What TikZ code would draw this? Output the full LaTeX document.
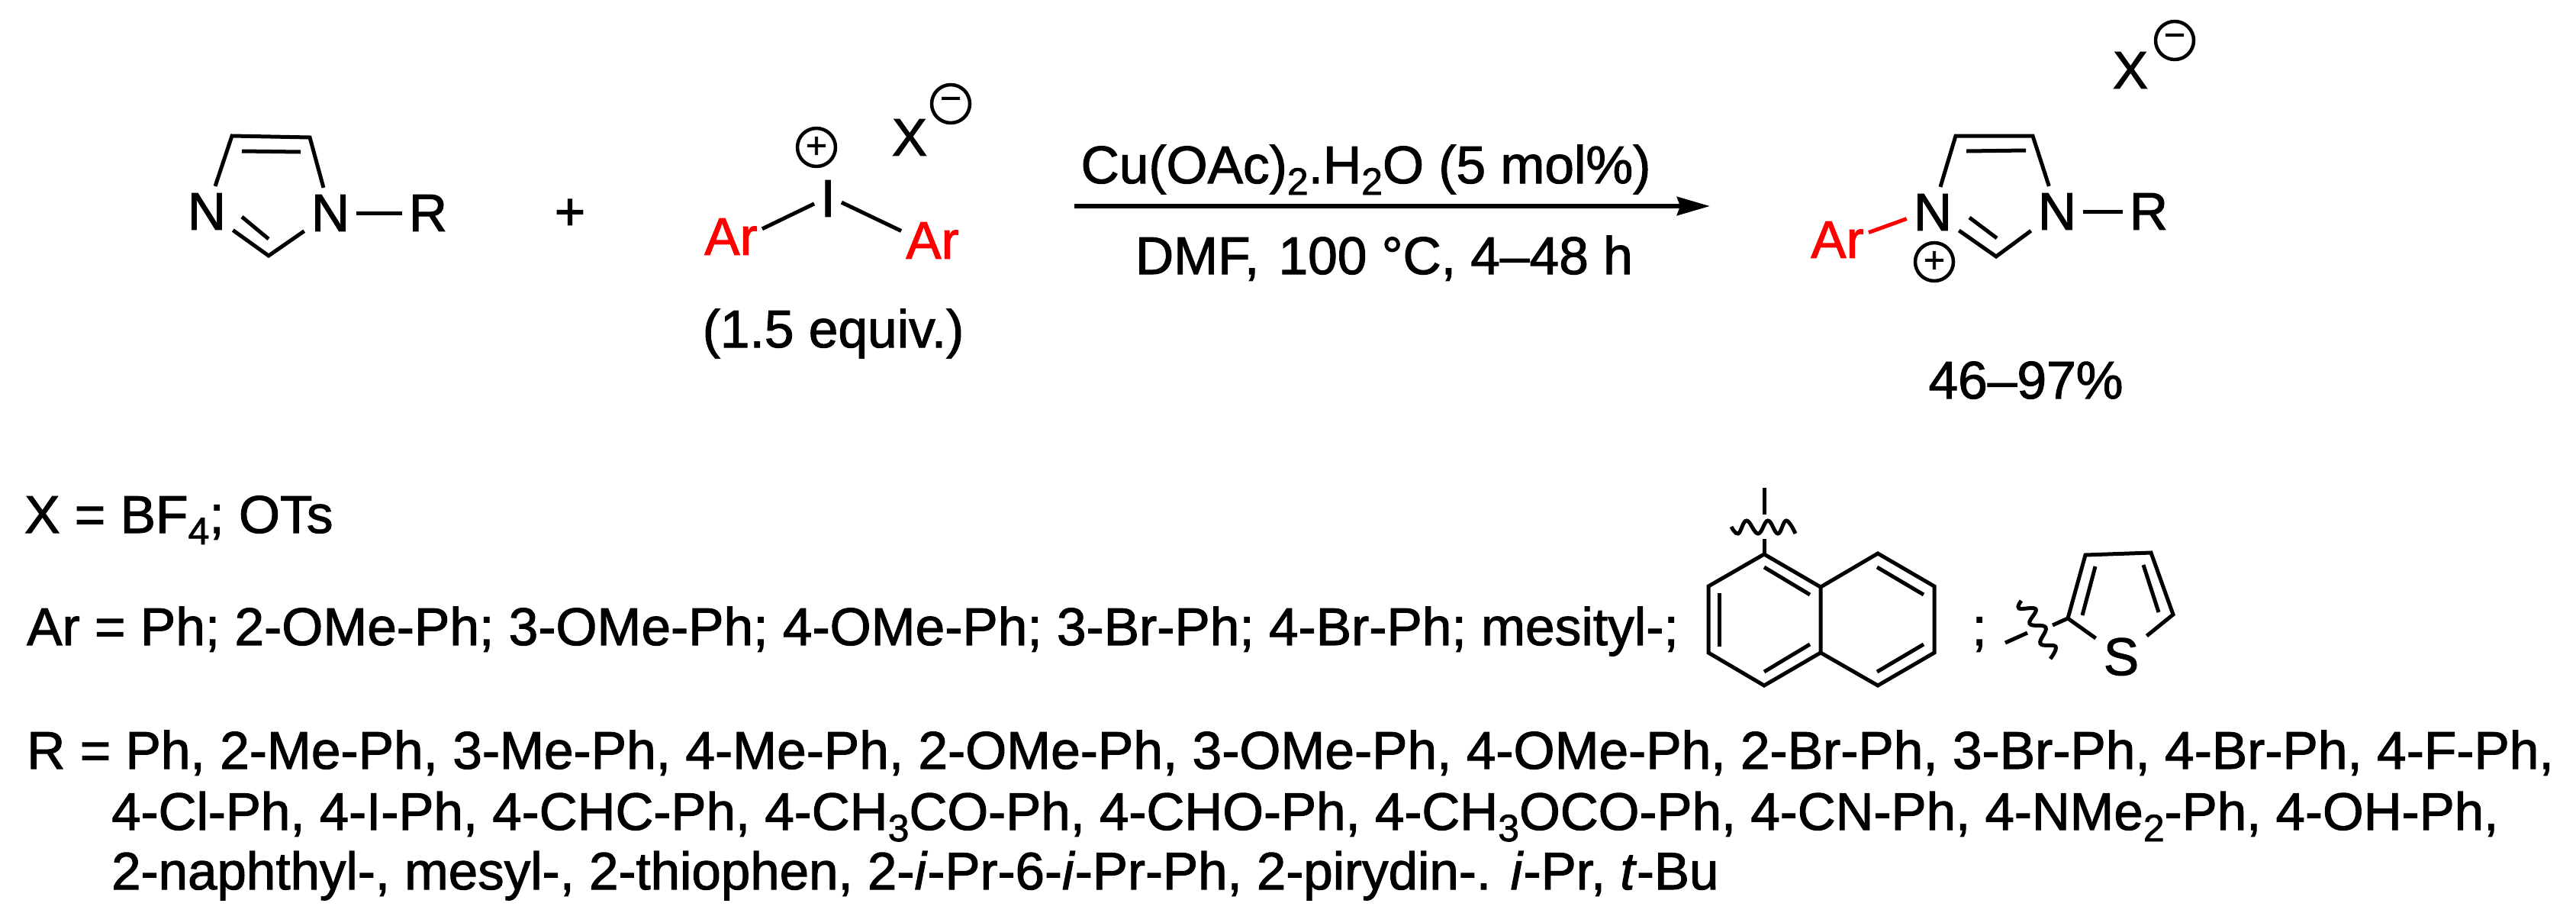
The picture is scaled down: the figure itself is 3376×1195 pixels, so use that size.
\documentclass[tikz,border=0pt]{standalone}
\usepackage{fontspec}
\setmainfont{Liberation Sans}[UprightFeatures={FakeBold=1.5}, ItalicFeatures={FakeBold=1.5}]
\usetikzlibrary{arrows.meta}
\newcommand{\chemsub}[1]{\raisebox{-15pt}{\fontsize{50}{50}\selectfont #1}}
\tikzset{
    atom/.style={inner sep=9pt, text depth=0pt, font=\fontsize{69.5}{80}\selectfont},
    aryl/.style={atom, inner sep=6pt, red},
    txt/.style={inner sep=0pt, anchor=base west, font=\fontsize{69.5}{80}\selectfont},
    txtnarrow/.style={txt, font=\fontsize{69.1}{80}\selectfont},
    ctxt/.style={inner sep=0pt, anchor=base, font=\fontsize{69.5}{80}\selectfont},
    charge/.style={draw, circle, inner sep=0pt, minimum size=50pt, line width=4.5pt, font=\fontsize{48}{50}\selectfont},
    bond/.style={line width=5pt},
    squiggle/.style={line width=5pt, smooth, tension=0.7},
}

\begin{document}
\begin{tikzpicture}[x=1pt, y=-1pt]
    \useasboundingbox (0,0) rectangle (3376,1195);

    % imidazole
    \coordinate (C4) at (304,178);
    \coordinate (C5) at (406,180);
    \coordinate (C2) at (352,335);
    \coordinate (C4i) at (317,198);
    \coordinate (C5i) at (394,199);
    \coordinate (C2i) at (352,313);
    \coordinate (N3i) at (317,284);
    \node[atom] (N3) at (271,277) {N};
    \node[atom] (N1) at (433,279) {N};
    \node[atom] (R1) at (561,279) {R};
    \draw[bond] (N3) -- (C4) -- (C5) -- (N1);
    \draw[bond] (C4i) -- (C5i);
    \draw[bond] (N3) -- (C2) -- (N1);
    \draw[bond] (N3i) -- (C2i);
    \draw[bond] (N1) -- (R1);

    \node[ctxt] (plus) at (747,301) {+};

    % iodonium salt
    \node[atom, inner sep=8pt] (I) at (1085,260) {I};
    \node[aryl] (ArL) at (958,310) {Ar};
    \node[aryl] (ArR) at (1222,315) {Ar};
    \node[charge] (Iplus) at (1070,193) {+};
    \node[atom] (X1) at (1192,180) {X};
    \node[charge] (X1minus) at (1246,136) {−};
    \draw[bond] (I.201) -- (ArL.14);
    \draw[bond] (I.-16) -- (ArR.163);
    \node[ctxt] (equiv) at (1092,455) {(1.5 equiv.)};

    % conditions
    \coordinate (arrowstart) at (1408,270);
    \coordinate (arrowend) at (2241,270);
    \draw[line width=6pt, -{Stealth[length=43pt, width=24pt, inset=4pt]}] (arrowstart) -- (arrowend);
    \node[ctxt] (cond1) at (1790,240) {Cu(OAc)\chemsub{2}.H\chemsub{2}O (5 mol\%)};
    \node[ctxt] (cond2) at (1814,359) {DMF,\hspace{6pt} 100 °C, 4–48 h};

    % product
    \coordinate (P4) at (2563,178);
    \coordinate (P5) at (2664,178);
    \coordinate (P2) at (2616,336);
    \coordinate (P4i) at (2577,198);
    \coordinate (P5i) at (2655,197);
    \coordinate (P2i) at (2617,312);
    \coordinate (P3i) at (2581,285);
    \node[atom] (PN3) at (2533,278) {N};
    \node[atom] (PN1) at (2696,277) {N};
    \node[atom] (PR) at (2816,277) {R};
    \node[aryl] (PAr) at (2408,314) {Ar};
    \node[charge] (Pplus) at (2535,343) {+};
    \node[atom] (X2) at (2792,92) {X};
    \node[charge] (X2minus) at (2850,53) {−};
    \draw[bond] (PN3) -- (P4) -- (P5) -- (PN1);
    \draw[bond] (P4i) -- (P5i);
    \draw[bond] (PN3) -- (P2) -- (PN1);
    \draw[bond] (P3i) -- (P2i);
    \draw[bond] (PN1) -- (PR);
    \draw[bond, red] (PAr.13) -- (PN3.194);
    \node[ctxt] (yield) at (2655,522) {46–97\%};

    % substituents
    \node[txt] (Xline) at (32,698) {X = BF\chemsub{4}; OTs};
    \node[txt] (Arline) at (35,845) {Ar = Ph; 2-OMe-Ph; 3-OMe-Ph; 4-OMe-Ph; 3-Br-Ph; 4-Br-Ph; mesityl-;};
    \node[txt] (Rline1) at (35,1007) {R = Ph, 2-Me-Ph, 3-Me-Ph, 4-Me-Ph, 2-OMe-Ph, 3-OMe-Ph, 4-OMe-Ph, 2-Br-Ph, 3-Br-Ph, 4-Br-Ph, 4-F-Ph,};
    \node[txtnarrow] (Rline2) at (146,1087) {4-Cl-Ph, 4-I-Ph, 4-CHC-Ph, 4-CH\chemsub{3}CO-Ph, 4-CHO-Ph, 4-CH\chemsub{3}OCO-Ph, 4-CN-Ph, 4-NMe\chemsub{2}-Ph, 4-OH-Ph,};
    \node[txtnarrow] (Rline3) at (146,1165) {2-naphthyl-, mesyl-, 2-thiophen, 2-\textit{i}-Pr-6-\textit{i}-Pr-Ph, 2-pirydin-. \textit{i}-Pr, \textit{t}-Bu};

    % naphthyl
    \coordinate (A1) at (2312,726);
    \coordinate (A2) at (2239,768);
    \coordinate (A3) at (2239,855);
    \coordinate (A4) at (2312,898);
    \coordinate (A5) at (2386,855);
    \coordinate (A6) at (2386,769);
    \coordinate (B1) at (2461,725);
    \coordinate (B2) at (2535,768);
    \coordinate (B3) at (2535,855);
    \coordinate (B4) at (2461,898);
    \draw[bond] (A6) -- (A1) -- (A2) -- (A3) -- (A4) -- (A5) -- (B4) -- (B3) -- (B2) -- (B1) -- (A6) -- (A5);
    \draw[bond] (2253,777) -- (2253,847);
    \draw[bond] (2312,743) -- (2372,779);
    \draw[bond] (2312,880) -- (2372,844);
    \draw[bond] (2460,743) -- (2521,779);
    \draw[bond] (2460,880) -- (2521,844);
    \coordinate (A0) at (2312,706);
    \coordinate (A00) at (2312,674);
    \coordinate (A01) at (2312,639);
    \draw[bond] (A1) -- (A0);
    \draw[bond] (A00) -- (A01);
    \draw[squiggle] plot coordinates {(2269,690) (2278,699) (2289,682) (2304,699) (2317,682) (2330,699) (2341,682) (2353,699)};

    \node[ctxt] (semi) at (2594,845) {;};

    % thienyl
    \coordinate (T2) at (2710,810);
    \coordinate (T3) at (2733,727);
    \coordinate (T4) at (2819,724);
    \coordinate (T5) at (2848,805);
    \node[atom, inner sep=10pt] (S) at (2780,860) {S};
    \draw[bond] (S) -- (T2) -- (T3) -- (T4) -- (T5) -- (S);
    \draw[bond] (2729,806) -- (2746,742);
    \draw[bond] (2809,740) -- (2829,802);
    \coordinate (T0) at (2690,819);
    \coordinate (T00) at (2657,829);
    \coordinate (T01) at (2628,842);
    \draw[bond] (T2) -- (T0);
    \draw[bond] (T00) -- (T01);
    \draw[squiggle] plot coordinates {(2649,787) (2646,797) (2668,798) (2660,817) (2681,822) (2674,843) (2694,847) (2687,863)};
\end{tikzpicture}
\end{document}
